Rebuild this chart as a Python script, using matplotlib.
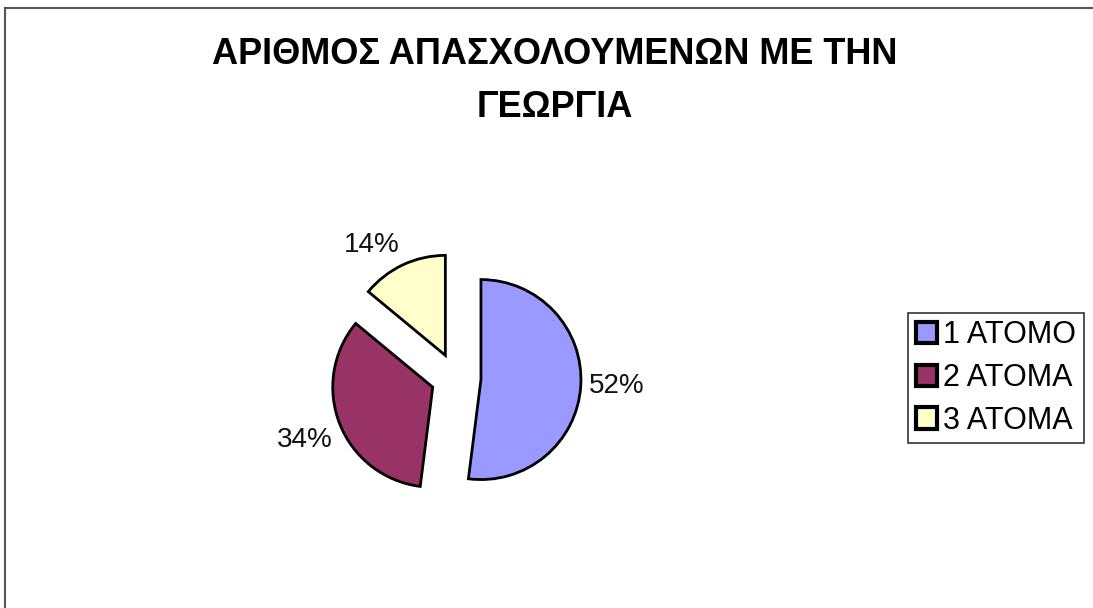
import numpy as np
import matplotlib.pyplot as plt
from matplotlib.lines import Line2D

labels = ['1 ΑΤΟΜΟ', '2 ΑΤΟΜΑ', '3 ΑΤΟΜΑ']
shares = [52, 34, 14]
colors = ['#9999FF', '#993366', '#FFFFCC']
title = 'ΑΡΙΘΜΟΣ ΑΠΑΣΧΟΛΟΥΜΕΝΩΝ ΜΕ ΤΗΝ\nΓΕΩΡΓΙΑ'

plt.rcParams['font.family'] = ['Liberation Sans', 'DejaVu Sans']

W, H = 1093, 608
fig = plt.figure(figsize=(W / 100, H / 100), dpi=100)

# frame (only left and top edges visible in the reference)
fig.add_artist(Line2D([5 / W, 5 / W], [0, 1 - 8 / H], color='#555555', lw=1.5))
fig.add_artist(Line2D([5 / W, 1], [1 - 8 / H, 1 - 8 / H], color='#555555', lw=1.5))

fig.text(555 / W, 1 - 81 / H, title, ha='center', va='center',
         fontsize=26, fontweight='bold', linespacing=1.65)

# pie axes: 400x400 px, centre at (456, 378)
ax = fig.add_axes([256 / W, (H - 378 - 200) / H, 400 / W, 400 / H])
expl = 0.25
wedges, texts = ax.pie(
    shares, colors=colors, startangle=90, counterclock=False,
    explode=[expl] * len(shares),
    wedgeprops=dict(edgecolor='black', linewidth=2))
ax.set_xlim(-2, 2)
ax.set_ylim(-2, 2)
ax.set_aspect('equal')
ax.axis('off')

# percentage labels at the outside end of each slice
for w, v in zip(wedges, shares):
    mid = np.deg2rad((w.theta1 + w.theta2) / 2)
    r = 1.08 + expl
    c, s = np.cos(mid), np.sin(mid)
    ha = 'left' if c > 0 else 'right'
    va = 'center' if abs(s) < 0.3 else ('bottom' if s > 0 else 'top')
    ax.text(r * c, r * s, f'{v}%', ha=ha, va=va, fontsize=20, color='#111111')

leg = fig.legend(wedges, labels, loc='center left',
                 bbox_to_anchor=(908 / W, 1 - 378 / H),
                 fontsize=22, frameon=True, fancybox=False,
                 edgecolor='black', handlelength=0.7, handleheight=0.7,
                 handletextpad=0.2, labelspacing=0.42, borderpad=0.25,
                 borderaxespad=0)
leg.get_frame().set_linewidth(1.2)
for h in leg.legend_handles:
    h.set_linewidth(3)

fig.savefig('out.png', dpi=100)
